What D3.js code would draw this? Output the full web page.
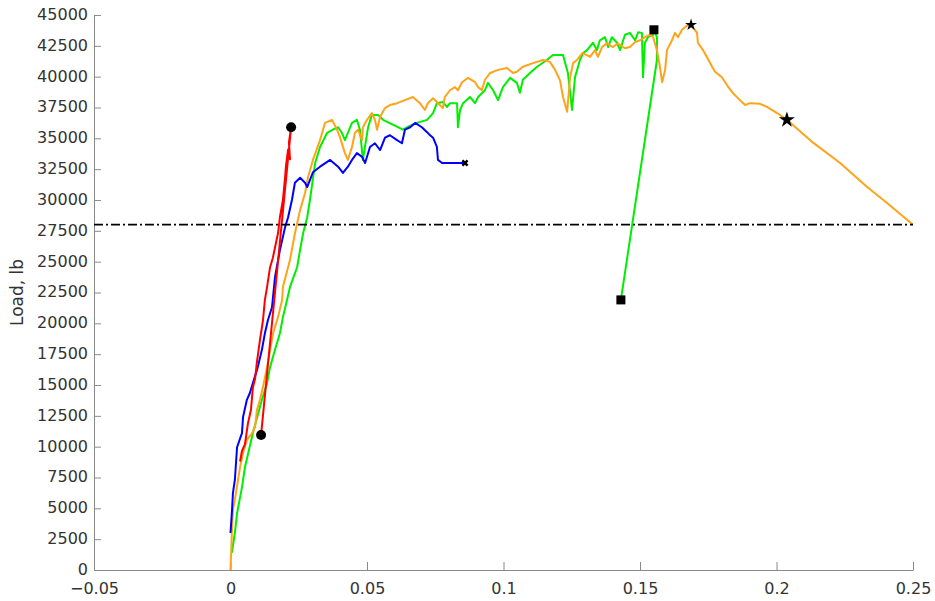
<!DOCTYPE html>
<html>
<head>
<meta charset="utf-8">
<script src="https://cdn.jsdelivr.net/npm/d3@7"></script>
<style>
  html, body { margin: 0; padding: 0; background: #fff; }
  svg { display: block; font-family: 'DejaVu Sans', Verdana, sans-serif; }
  .axis path, .axis line { stroke: #8a8a8a; }
  .axis text { fill: #333; font-size: 16px; font-family: 'DejaVu Sans', Verdana, sans-serif; }
</style>
</head>
<body>
<div id="chart"></div>
<script>
// tick values / labels
const xTicks = [-0.05, 0, 0.05, 0.1, 0.15, 0.2, 0.25];
const xTickLabels = ['\u22120.05', '0', '0.05', '0.1', '0.15', '0.2', '0.25'];
const yTicks = d3.range(0, 45001, 2500);
const thresholdLoad = 28000;

// series: [strain, load]
const blueSeries = [
  [0, 3000], [0.0005, 4650], [0.0009, 6250], [0.0016, 7300], [0.0024, 9950], [0.0042, 11100],
  [0.0046, 12400], [0.006, 13800], [0.0071, 14350], [0.0082, 15150], [0.01, 16450], [0.0115, 17850],
  [0.0126, 19200], [0.0137, 20250], [0.0152, 21300], [0.0163, 23750], [0.0181, 25950], [0.02, 27800],
  [0.0211, 28600], [0.0225, 30000], [0.0236, 31400], [0.0255, 31800], [0.0273, 31400], [0.0281, 31050],
  [0.0302, 32250], [0.0328, 32700], [0.0365, 33250], [0.0394, 32700], [0.0412, 32200], [0.043, 32700],
  [0.0445, 33250], [0.0463, 33800], [0.0482, 33500], [0.0493, 33000], [0.0511, 34300], [0.0529, 34600],
  [0.0548, 34050], [0.0566, 35050], [0.0584, 35250], [0.061, 34850], [0.0628, 34600], [0.0639, 35700],
  [0.0658, 35900], [0.0676, 36250], [0.0701, 35900], [0.072, 35500], [0.0731, 35250], [0.0742, 35050],
  [0.0756, 34300], [0.076, 33250], [0.0775, 33000], [0.0852, 33000], [0.0859, 33000]
];

const greenSeries = [
  [0.0005, 1400], [0.0016, 3000], [0.0024, 4600], [0.0042, 6700], [0.0053, 8350], [0.0071, 10050],
  [0.0082, 11100], [0.0115, 13800], [0.0134, 15150], [0.0145, 16450], [0.0163, 17850], [0.0181, 19200],
  [0.0192, 20500], [0.0207, 21900], [0.0218, 22950], [0.0244, 24550], [0.0255, 25950], [0.0266, 27300],
  [0.0281, 28600], [0.0291, 30000], [0.031, 33000], [0.0328, 34300], [0.0354, 35450], [0.0375, 35700],
  [0.0394, 35900], [0.0408, 35450], [0.0419, 34850], [0.0445, 36250], [0.0463, 36500], [0.0474, 35700],
  [0.0485, 33250], [0.0504, 35900], [0.0518, 36900], [0.054, 36900], [0.0559, 36500], [0.0632, 35700],
  [0.0647, 35900], [0.0683, 36250], [0.072, 36500], [0.0742, 37050], [0.0756, 37850], [0.0778, 37950],
  [0.0793, 37550], [0.0804, 37850], [0.083, 37850], [0.0833, 35900], [0.0841, 37300], [0.0852, 37850],
  [0.0877, 38350], [0.0896, 37850], [0.0907, 38350], [0.0932, 38900], [0.0943, 39500], [0.0962, 38900],
  [0.098, 38100], [0.0998, 39150], [0.1024, 39900], [0.1049, 39500], [0.106, 38700], [0.1071, 39750],
  [0.1097, 40300], [0.1123, 40800], [0.1159, 41350], [0.1181, 41750], [0.1218, 41750], [0.1236, 40300],
  [0.1251, 37300], [0.1262, 39950], [0.128, 41350], [0.1291, 41900], [0.1306, 42150], [0.1328, 42750],
  [0.1342, 42150], [0.1353, 42950], [0.1372, 43200], [0.1383, 42400], [0.1397, 43200], [0.1416, 42750],
  [0.1427, 42150], [0.1445, 43400], [0.1463, 43550], [0.1482, 42950], [0.1493, 43600], [0.1507, 43550],
  [0.1511, 39950], [0.1518, 42750], [0.1529, 43200], [0.1548, 43400], [0.1551, 43800], [0.1562, 43200],
  [0.1562, 41350], [0.143, 21900]
];

const orangeSeries = [
  [0, 0], [0.0005, 3000], [0.0009, 4900], [0.0016, 5700], [0.0035, 8350], [0.0046, 9500], [0.006, 10550],
  [0.0079, 11100], [0.009, 11600], [0.0097, 13000], [0.0108, 13800], [0.0119, 14850], [0.0134, 16450],
  [0.0145, 17850], [0.0156, 19200], [0.0174, 20500], [0.0189, 21900], [0.0192, 22950], [0.0218, 25150],
  [0.0236, 27300], [0.0255, 29200], [0.0273, 30550], [0.0284, 31850], [0.0302, 33250], [0.0328, 34850],
  [0.0346, 36250], [0.0372, 36500], [0.039, 35700], [0.0401, 35100], [0.0419, 33800], [0.043, 33250],
  [0.0445, 34300], [0.0456, 35450], [0.0467, 35700], [0.0482, 34850], [0.0485, 35900], [0.05, 36500],
  [0.0518, 37050], [0.0529, 36500], [0.0537, 35700], [0.0548, 36750], [0.0566, 37450], [0.0584, 37700],
  [0.061, 37850], [0.0639, 38100], [0.0668, 38350], [0.0694, 37850], [0.0712, 37300], [0.0723, 37850],
  [0.0742, 38250], [0.076, 37850], [0.0778, 37450], [0.0785, 38350], [0.0804, 38900], [0.0822, 39150],
  [0.0833, 38900], [0.0848, 39550], [0.087, 39900], [0.0896, 39550], [0.0907, 39150], [0.0921, 38900],
  [0.0932, 39750], [0.0951, 40300], [0.098, 40550], [0.1013, 40700], [0.1035, 40300], [0.1049, 40400],
  [0.1071, 40800], [0.1108, 41100], [0.1145, 41350], [0.117, 41200], [0.1189, 40550], [0.1207, 39700],
  [0.1218, 38350], [0.1233, 37150], [0.1244, 39950], [0.1255, 41100], [0.1269, 41350], [0.1288, 41900],
  [0.1306, 41750], [0.1317, 41600], [0.1335, 42150], [0.1346, 41600], [0.1361, 42400], [0.1379, 42700],
  [0.1401, 42400], [0.1419, 42700], [0.1445, 42300], [0.1463, 42400], [0.1482, 42800], [0.15, 42950],
  [0.1518, 43200], [0.1537, 43400], [0.1548, 43200], [0.1562, 42150], [0.1573, 40800], [0.1581, 39550],
  [0.1592, 40550], [0.1599, 42150], [0.1617, 42950], [0.1628, 43550], [0.1639, 43200], [0.1654, 43800],
  [0.1665, 44000], [0.1676, 44200], [0.1687, 44200], [0.1709, 43550], [0.1712, 42750], [0.1731, 42150],
  [0.1745, 41600], [0.1764, 40800], [0.1775, 40400], [0.18, 39950], [0.1819, 39300], [0.1841, 38650],
  [0.1866, 38100], [0.1885, 37700], [0.1903, 37850], [0.194, 37800], [0.1965, 37550], [0.2002, 37050],
  [0.2038, 36500], [0.2134, 34650], [0.2233, 33000], [0.2332, 31050], [0.2405, 29750], [0.25, 28000]
];

const redSeries = [
  [0.0035, 8800], [0.0042, 9650], [0.0053, 10200], [0.0064, 11900], [0.0075, 13000], [0.0082, 14800],
  [0.009, 15500], [0.0097, 16900], [0.0108, 18650], [0.0119, 20250], [0.0126, 21900], [0.0134, 22950],
  [0.0145, 24550], [0.0155, 25300], [0.0174, 27300], [0.0181, 28600], [0.0192, 30000], [0.02, 31850],
  [0.0203, 32700], [0.0211, 34100], [0.0218, 33300], [0.0214, 34650], [0.0222, 35900], [0.0112, 10950]
];

// event markers
const redMarks = [[0.0112, 10950], [0.0222, 35900]];
const greenMarks = [[0.1551, 43800], [0.143, 21900]];
const orangeMarks = [[0.1687, 44200, 45], [0.2038, 36500, 80]];
const blueMarks = [[0.0859, 33000]];

const width = 935, height = 601;
const margin = { top: 15, right: 22, bottom: 31, left: 94 };

const svg = d3.select('#chart').append('svg')
  .attr('width', width)
  .attr('height', height);

const x = d3.scaleLinear().domain([-0.05, 0.25]).range([margin.left, width - margin.right]);
const y = d3.scaleLinear().domain([0, 45000]).range([height - margin.bottom, margin.top]);

// axes (ticks point inward)
svg.append('g')
  .attr('class', 'axis')
  .attr('transform', `translate(0,${height - margin.bottom})`)
  .call(d3.axisBottom(x).tickValues(xTicks).tickSizeInner(-8).tickSizeOuter(0).tickPadding(13)
    .tickFormat((d, i) => xTickLabels[i]));

const yAxis = svg.append('g')
  .attr('class', 'axis')
  .attr('transform', `translate(${margin.left},0)`)
  .call(d3.axisLeft(y).tickValues(yTicks).tickSizeInner(-7).tickSizeOuter(0).tickPadding(6)
    .tickFormat(d3.format('d')));
yAxis.selectAll('text').attr('dy', '0.28em');

svg.append('text')
  .attr('transform', `translate(23,${(margin.top + height - margin.bottom) / 2}) rotate(-90)`)
  .attr('text-anchor', 'middle')
  .attr('fill', '#333')
  .style('font-size', '17px')
  .text('Load, lb');

const line = d3.line().x(d => x(d[0])).y(d => y(d[1]));

const curves = [
  { data: greenSeries, color: '#00ee00' },
  { data: orangeSeries, color: '#ffa31a' },
  { data: blueSeries, color: '#0000ff' },
  { data: redSeries, color: '#ff0000' }
];

svg.append('g')
  .selectAll('path')
  .data(curves)
  .join('path')
  .attr('fill', 'none')
  .attr('stroke', d => d.color)
  .attr('stroke-width', 2)
  .attr('stroke-linejoin', 'round')
  .attr('d', d => line(d.data));

// 28000 lb limit
svg.append('line')
  .attr('x1', x(-0.05))
  .attr('x2', x(0.25))
  .attr('y1', y(thresholdLoad))
  .attr('y2', y(thresholdLoad))
  .attr('stroke', '#000')
  .attr('stroke-width', 1.6)
  .attr('stroke-dasharray', '9,3,2,3');

const marks = svg.append('g').attr('fill', '#000');

marks.selectAll('.dot')
  .data(redMarks)
  .join('circle')
  .attr('cx', d => x(d[0]))
  .attr('cy', d => y(d[1]))
  .attr('r', 5);

marks.selectAll('.sq')
  .data(greenMarks)
  .join('rect')
  .attr('x', d => x(d[0]) - 4.5)
  .attr('y', d => y(d[1]) - 4.5)
  .attr('width', 9)
  .attr('height', 9);

marks.selectAll('.star')
  .data(orangeMarks)
  .join('path')
  .attr('transform', d => `translate(${x(d[0])},${y(d[1])})`)
  .attr('d', d => d3.symbol(d3.symbolStar, d[2])());

marks.selectAll('.cross')
  .data(blueMarks)
  .join('path')
  .attr('transform', d => `translate(${x(d[0])},${y(d[1])}) rotate(45)`)
  .attr('d', d3.symbol(d3.symbolCross, 30)());
</script>
</body>
</html>
